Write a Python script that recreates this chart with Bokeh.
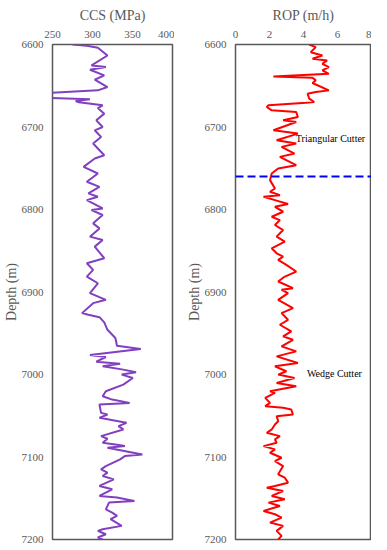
from bokeh.plotting import figure
from bokeh.layouts import row
from bokeh.models import Range1d, FixedTicker, Span, Label
from bokeh.embed import file_html
from bokeh.resources import INLINE

# ---- data ----
ccs_depth = [6600, 6601.6, 6604, 6613.3, 6625.4, 6627.4, 6630.6, 6637.5, 6642.7, 6651.6,
             6655.6, 6658.8, 6664.5, 6666.5, 6668.5, 6670.1, 6673.7, 6677, 6683.8, 6691.9,
             6700, 6704, 6712, 6720, 6734.2, 6738.2, 6748.3, 6756.4, 6766.4, 6772.5,
             6780.5, 6784.6, 6788.6, 6798.7,
             6800.7, 6806.7, 6816.8, 6822.9, 6832.9, 6837, 6845, 6859.1, 6865.2, 6873.2,
             6881.3, 6889.4, 6901.4, 6909.5, 6913.5, 6925.6, 6927.6, 6930.5, 6936.9, 6945.8,
             6955.8, 6965.1, 6969.1, 6976.4, 6978.8, 6984.5, 6986.9, 6990.1,
             6994.1, 6997.3, 7000.1, 7004.2, 7012.2, 7020.3, 7026.3, 7030.4, 7034.4, 7036.4,
             7046.5, 7048.5, 7052.5, 7058.6, 7062.6, 7066.6, 7074.7, 7077.9, 7082.8, 7084.8,
             7086.8, 7088.8, 7096.9, 7098.9, 7102.9, 7111, 7115, 7119, 7123.1, 7127.1,
             7135.1, 7139.2, 7147.2, 7149.2, 7153.3, 7155.3, 7163.4, 7167.4, 7171.4, 7175.4,
             7183.5, 7187.5, 7189.5, 7193.6, 7197.6, 7200]
ccs_value = [275.0, 292.9, 306.7, 318.7, 298.8, 316.7, 296.8, 314.7, 302.8, 318.7,
             306.7, 240.0, 240.0, 296.8, 279.0, 283.0, 312.7, 306.7, 314.7, 304.8,
             312.7, 302.8, 310.7, 300.8, 314.7, 302.8, 288.9, 306.7, 292.9, 308.7,
             294.8, 306.7, 292.9, 312.7,
             298.8, 312.7, 300.8, 308.7, 296.8, 312.7, 302.8, 314.7, 292.9, 300.8,
             292.9, 306.7, 296.8, 316.7, 300.8, 286.9, 294.8, 308.7, 314.7, 318.7,
             328.6, 330.6, 360.3, 296.8, 316.7, 304.8, 334.5, 312.7,
             338.5, 354.4, 336.5, 350.4, 338.5, 316.7, 312.7, 324.6, 346.4, 308.7,
             310.7, 318.7, 308.7, 342.5, 332.5, 338.5, 310.7, 318.7, 312.7, 328.6,
             340.5, 318.7, 362.3, 340.5, 334.5, 316.7, 310.7, 318.7, 312.7, 326.6,
             308.7, 324.6, 308.7, 330.6, 352.4, 320.6, 316.7, 324.6, 330.6, 322.6,
             336.5, 312.7, 306.7, 316.7, 306.7, 312.7]

rop_depth = [6600, 6603.2, 6609.3, 6613.3, 6617.3, 6619.3, 6623.4, 6627.4, 6631.4, 6635.5,
             6638.7, 6640.3, 6643.5, 6646.7, 6655.6, 6657.6, 6659.6, 6665.7, 6669.7, 6670.5,
             6673.7, 6675.8, 6679.8, 6681.8, 6687.9, 6691.9, 6693.9, 6704, 6708, 6716.1,
             6720.1, 6724.1, 6732.2, 6736.2, 6746.3, 6750.3, 6756.4, 6764.4, 6774.5, 6778.5,
             6782.6, 6784.6, 6788.6, 6793.4, 6796.7,
             6802.7, 6808.8, 6812.8, 6818.8, 6824.9, 6832.9, 6839, 6847, 6853.1, 6857.1,
             6861.1, 6867.2, 6875.2, 6881.3, 6887.3, 6895.4, 6897.4, 6901.4, 6909.5, 6919.6,
             6925.6, 6933.7, 6939.7, 6947.8, 6953.8, 6957.9, 6965.9, 6972, 6978, 6986, 6990.1,
             6996.1, 7000.1, 7004.2, 7010.2, 7014.2, 7020.3, 7022.3, 7028.3, 7034.4, 7038.4,
             7040.4, 7042.5, 7048.5, 7050.5, 7056.6, 7060.6, 7066.6, 7070.7, 7074.7, 7078.7,
             7082.8, 7086.8, 7090.8, 7094.8, 7100.9, 7104.9, 7111, 7121, 7125.1, 7131.1,
             7135.1, 7137.2, 7141.2, 7147.2, 7151.3, 7155.3, 7159.3, 7165.4, 7169.4, 7173.4,
             7179.5, 7183.5, 7189.5, 7195.6, 7200]
rop_value = [4.34, 4.72, 4.43, 5.11, 4.53, 5.39, 5.11, 5.49, 5.11, 5.49,
             2.23, 4.53, 4.72, 4.53, 5.49, 4.72, 4.24, 4.34, 4.63, 4.15,
             1.94, 1.84, 2.13, 3.57, 3.67, 2.80, 3.57, 2.23, 3.67, 2.42,
             3.57, 2.71, 3.47, 2.61, 3.57, 2.51, 2.13, 2.03, 2.32, 2.03,
             2.61, 1.65, 2.32, 3.09, 2.32,
             2.80, 2.13, 2.61, 2.32, 2.80, 2.42, 2.90, 2.13, 2.42, 2.80,
             2.51, 2.99, 3.57, 2.90, 2.51, 3.38, 2.71, 3.09, 2.51, 3.38,
             2.71, 3.09, 2.61, 3.28, 2.80, 3.38, 2.71, 3.57, 2.42, 3.67, 2.32,
             2.99, 2.51, 3.47, 2.42, 3.57, 2.03, 2.32, 1.75, 2.03, 1.75,
             2.80, 3.28, 3.38, 2.42, 2.51, 2.32, 2.13, 1.84, 2.61, 2.32,
             2.42, 1.65, 2.32, 2.03, 2.71, 2.32, 2.80, 2.51, 2.90, 3.09,
             2.32, 1.84, 2.80, 2.13, 2.90, 1.94, 2.61, 1.65, 2.32, 2.71,
             2.03, 2.80, 2.42, 2.71, 2.51]

depth_ticks = [6600, 6700, 6800, 6900, 7000, 7100, 7200]
ccs_ticks = [250, 300, 350, 400]
rop_ticks = [0, 2, 4, 6, 8]
boundary_depth = 6760

FONT = "Liberation Serif"
GREY = "#595959"


def make_fig(title, xr, xticks, width, border_left, border_right):
    p = figure(width=width, height=545, output_backend="svg", toolbar_location=None,
               x_range=xr, y_range=Range1d(7200, 6600), x_axis_location="above",
               min_border_left=border_left, min_border_right=border_right,
               min_border_top=43, min_border_bottom=6, title=title)
    p.title.text_font = FONT
    p.title.text_font_size = "14px"
    p.title.text_font_style = "normal"
    p.title.text_color = GREY
    p.title.align = "center"
    p.title.offset = -10
    p.title.standoff = 10
    p.grid.visible = False
    p.outline_line_color = "#595959"
    p.outline_line_width = 1.5
    p.background_fill_color = "white"
    for ax in (p.xaxis[0], p.yaxis[0]):
        ax.major_tick_line_color = None
        ax.minor_tick_line_color = None
        ax.major_tick_out = 0
        ax.major_tick_in = 0
        ax.axis_line_color = None
        ax.major_label_text_font = FONT
        ax.major_label_text_font_size = "11px"
        ax.major_label_text_color = GREY
    p.xaxis.major_label_standoff = 7
    p.xaxis.ticker = FixedTicker(ticks=xticks)
    p.yaxis.ticker = FixedTicker(ticks=depth_ticks)
    p.yaxis.axis_label = "Depth (m)"
    p.yaxis.axis_label_text_font = FONT
    p.yaxis.axis_label_text_font_size = "14px"
    p.yaxis.axis_label_text_font_style = "normal"
    p.yaxis.axis_label_text_color = GREY
    p.yaxis.axis_label_standoff = 0
    p.yaxis.major_label_standoff = 9
    return p


p1 = make_fig("CCS (MPa)", Range1d(250, 400), ccs_ticks, 174, 46, 2)
p1.line(ccs_value, ccs_depth, line_color="#8040C0", line_width=2)

p2 = make_fig("ROP (m/h)", Range1d(0, 8), rop_ticks, 197, 61, 0)
p2.line(rop_value, rop_depth, line_color="#FF0000", line_width=2)
p2.add_layout(Span(location=boundary_depth, dimension="width", line_color="#0000FF",
                   line_width=2, line_dash="8 4"))
p2.add_layout(Label(x=3.55, y=6714, text="Triangular Cutter", text_font=FONT,
                    text_font_size="10px", text_color="black", text_baseline="middle"))
p2.add_layout(Label(x=4.2, y=6999, text="Wedge Cutter", text_font=FONT,
                    text_font_size="10px", text_color="black", text_baseline="middle"))

layout = row(p1, p2)
open("out.html", "w").write(file_html(layout, INLINE))
